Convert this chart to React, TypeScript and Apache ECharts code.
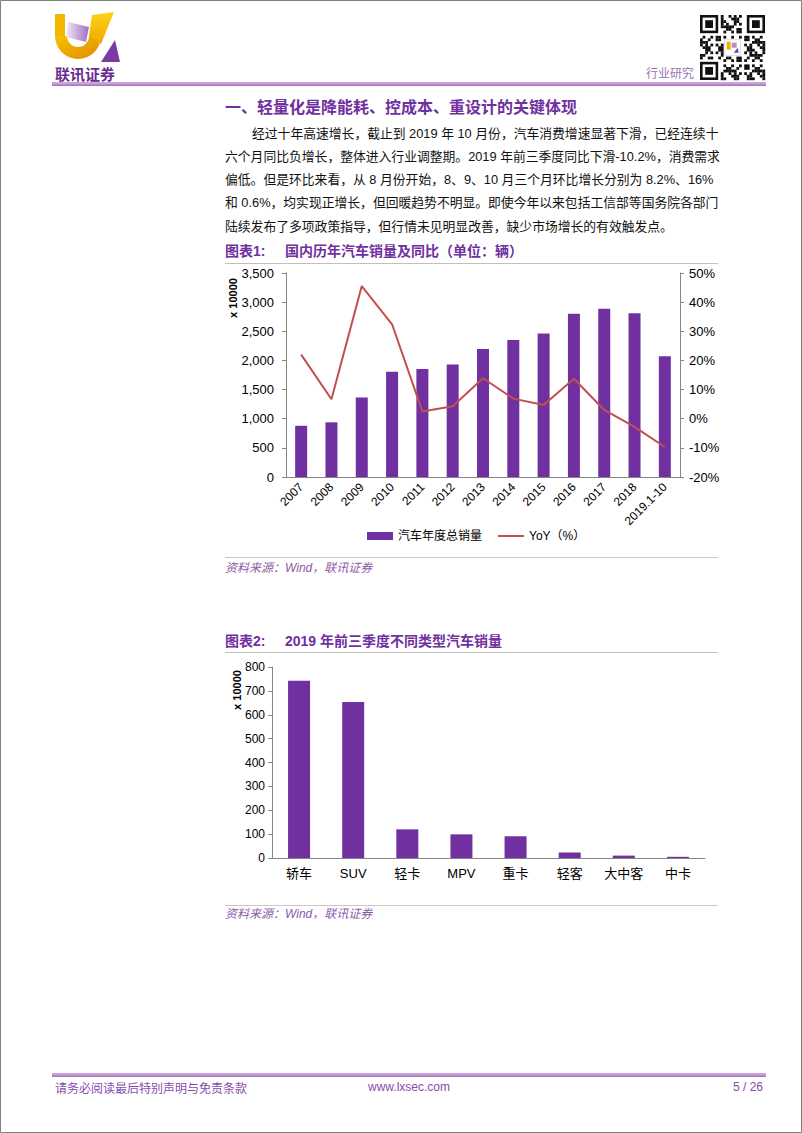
import React, { useEffect, useRef } from "react";
import * as echarts from "echarts";

// ---------- data ----------
const years = ["2007", "2008", "2009", "2010", "2011", "2012", "2013", "2014", "2015", "2016", "2017", "2018", "2019.1-10"];
const annualSales = [879, 938, 1364, 1806, 1851, 1931, 2198, 2349, 2460, 2803, 2888, 2808, 2071];
const yoyPct = [22.0, 6.7, 45.5, 32.4, 2.5, 4.3, 13.9, 6.9, 4.7, 13.7, 3.0, -2.8, -9.7];
const vehicleTypes = ["轿车", "SUV", "轻卡", "MPV", "重卡", "轻客", "大中客", "中卡"];
const typeSales = [742, 653, 120, 99, 91, 23, 10, 5];
const seriesNames = ["汽车年度总销量", "YoY（%）"];

const heading = "一、轻量化是降能耗、控成本、重设计的关键体现";
const paragraph = [
  "经过十年高速增长，截止到 2019 年 10 月份，汽车消费增速显著下滑，已经连续十",
  "六个月同比负增长，整体进入行业调整期。2019 年前三季度同比下滑-10.2%，消费需求",
  "偏低。但是环比来看，从 8 月份开始，8、9、10 月三个月环比增长分别为 8.2%、16%",
  "和 0.6%，均实现正增长，但回暖趋势不明显。即使今年以来包括工信部等国务院各部门",
  "陆续发布了多项政策指导，但行情未见明显改善，缺少市场增长的有效触发点。",
];

const FONT = "'Liberation Sans', Arial, 'Noto Sans CJK SC', sans-serif";
const PURPLE = "#7030a0";
const BAR = "#7030a0";
const LINE = "#c0504d";
const AXIS = "#868686";

function txt(x: number, y: number, text: string, o: any = {}) {
  const align = o.align || "left";
  const va = o.va || "middle";
  return {
    type: "text",
    x,
    y,
    rotation: o.rotation || 0,
    style: {
      text,
      fill: o.fill || "#000",
      fontSize: o.size || 13,
      fontWeight: o.weight || "normal",
      fontStyle: o.style || "normal",
      fontFamily: o.family || FONT,
      textAlign: align,
      align,
      textVerticalAlign: va,
      verticalAlign: va,
    },
  };
}

function hline(x1: number, x2: number, y: number, color: string, w = 1) {
  return { type: "line", shape: { x1, y1: y, x2, y2: y }, style: { stroke: color, lineWidth: w } };
}

function qrCode(x0: number, y0: number, size: number) {
  const n = 25;
  const m = size / n;
  const children: any[] = [{ type: "rect", shape: { x: x0, y: y0, width: size, height: size }, style: { fill: "#fff" } }];
  const inFinder = (i: number, j: number) =>
    (i < 8 && j < 8) || (i < 8 && j >= n - 8) || (i >= n - 8 && j < 8);
  for (let i = 0; i < n; i++) {
    for (let j = 0; j < n; j++) {
      if (inFinder(i, j)) continue;
      if (i >= 9 && i <= 15 && j >= 9 && j <= 15) continue;
      const on = ((i * 31 + j * 17 + i * j * 7) % 11) < 5;
      if (on) children.push({ type: "rect", shape: { x: x0 + j * m, y: y0 + i * m, width: m + 0.2, height: m + 0.2 }, style: { fill: "#111" } });
    }
  }
  const finder = (fi: number, fj: number) => {
    const fx = x0 + fj * m, fy = y0 + fi * m;
    children.push({ type: "rect", shape: { x: fx, y: fy, width: 7 * m, height: 7 * m }, style: { fill: "#111" } });
    children.push({ type: "rect", shape: { x: fx + m, y: fy + m, width: 5 * m, height: 5 * m }, style: { fill: "#fff" } });
    children.push({ type: "rect", shape: { x: fx + 2 * m, y: fy + 2 * m, width: 3 * m, height: 3 * m }, style: { fill: "#111" } });
  };
  finder(0, 0);
  finder(0, n - 7);
  finder(n - 7, 0);
  const cx = x0 + 9.5 * m, cy = y0 + 9.5 * m;
  children.push({ type: "rect", shape: { x: cx, y: cy, width: 6 * m, height: 6 * m }, style: { fill: "#fff", stroke: "#ddd" } });
  children.push({ type: "rect", shape: { x: cx + 2, y: cy + 2, width: 4, height: 8 }, style: { fill: "#f0b400" } });
  children.push({ type: "rect", shape: { x: cx + 7, y: cy + 3, width: 5, height: 5 }, style: { fill: "#b48ccc" } });
  children.push({ type: "polygon", shape: { points: [[cx + 9, cy + 13], [cx + 14, cy + 13], [cx + 13, cy + 8]] }, style: { fill: "#7b3fa0" } });
  return { type: "group", children };
}

function logo() {
  return {
    type: "group",
    children: [
      { type: "rect", shape: { x: 55, y: 14, width: 10, height: 22 }, style: { fill: "#f2b600" } },
      {
        type: "sector",
        shape: { cx: 78, cy: 36, r: 23, r0: 11, startAngle: 0, endAngle: Math.PI, clockwise: true },
        style: {
          fill: new echarts.graphic.LinearGradient(0, 0, 1, 1, [
            { offset: 0, color: "#f5c400" },
            { offset: 1, color: "#e08a00" },
          ]),
        },
      },
      {
        type: "polygon",
        shape: { points: [[92, 15], [114, 12], [101, 44], [89, 36]] },
        style: {
          fill: new echarts.graphic.LinearGradient(0, 0, 0, 1, [
            { offset: 0, color: "#ffd21a" },
            { offset: 1, color: "#f0a800" },
          ]),
        },
      },
      {
        type: "polygon",
        shape: { points: [[68, 22], [89, 27], [86, 42], [66, 37]] },
        style: {
          fill: new echarts.graphic.LinearGradient(0, 0, 1, 0, [
            { offset: 0, color: "#f2eaf6" },
            { offset: 1, color: "#9e6fbf" },
          ]),
        },
      },
      { type: "polygon", shape: { points: [[101, 62], [120, 62], [115, 40]] }, style: { fill: "#7b3aa4" } },
      txt(55, 73, "联讯证券", { size: 15, weight: "bold", fill: "#6a2c8f", family: "'Noto Sans CJK SC', sans-serif" }),
    ],
  };
}

export default function App() {
  const ref = useRef<HTMLDivElement>(null);

  useEffect(() => {
    if (!ref.current) return;
    const chart = echarts.init(ref.current, undefined, { renderer: "svg", width: 802, height: 1133 });

    const graphics: any[] = [
      { type: "rect", shape: { x: 0.5, y: 0.5, width: 801, height: 1132 }, style: { fill: "none", stroke: "#808080", lineWidth: 1 } },
      logo(),
      txt(694, 72, "行业研究", { size: 12, fill: "#9a72b4", align: "right", family: "'Noto Sans CJK SC', sans-serif" }),
      qrCode(700, 15, 65),
      { type: "rect", shape: { x: 52, y: 82, width: 714, height: 2.5 }, style: { fill: "#c9a4da" } },
      { type: "rect", shape: { x: 52, y: 84.5, width: 714, height: 1.2 }, style: { fill: "#8a4ab0" } },
      txt(225, 107, heading, { size: 16, weight: "bold", fill: PURPLE }),
      ...paragraph.map((line, i) => txt(i === 0 ? 252 : 225, 133 + i * 23.3, line, { size: 12.8, fill: "#111" })),
      txt(225, 251, "图表1:", { size: 14, weight: "bold", fill: PURPLE }),
      txt(285, 251, "国内历年汽车销量及同比（单位：辆）", { size: 14, weight: "bold", fill: PURPLE }),
      hline(225, 718, 263.5, "#c0c0c0"),
      txt(233, 298, "x 10000", { size: 11, weight: "bold", rotation: Math.PI / 2, align: "center" }),
      hline(225, 718, 557.5, "#c8c8c8"),
      txt(225, 568, "资料来源：Wind，联讯证券", { size: 12, style: "italic", fill: "#8e5aa8" }),
      txt(225, 641, "图表2:", { size: 14, weight: "bold", fill: PURPLE }),
      txt(285, 641, "2019 年前三季度不同类型汽车销量", { size: 14, weight: "bold", fill: PURPLE }),
      hline(225, 718, 652.5, "#c0c0c0"),
      txt(237, 690, "x 10000", { size: 11, weight: "bold", rotation: Math.PI / 2, align: "center" }),
      hline(225, 718, 905.5, "#c8c8c8"),
      txt(225, 914, "资料来源：Wind，联讯证券", { size: 12, style: "italic", fill: "#8e5aa8" }),
      { type: "rect", shape: { x: 52, y: 1073, width: 714, height: 2.5 }, style: { fill: "#c9a4da" } },
      { type: "rect", shape: { x: 52, y: 1075.5, width: 714, height: 1.2 }, style: { fill: "#8a4ab0" } },
      txt(55, 1087, "请务必阅读最后特别声明与免责条款", { size: 12, fill: "#8a4ab0", family: "'Noto Sans CJK SC', sans-serif" }),
      txt(368, 1087, "www.lxsec.com", { size: 12, fill: "#8a4ab0" }),
      txt(763, 1087, "5 / 26", { size: 12, fill: "#8a4ab0", align: "right" }),
    ];

    const axisLabel = { color: "#000", fontFamily: FONT };

    chart.setOption({
      animation: false,
      backgroundColor: "#fff",
      textStyle: { fontFamily: FONT },
      grid: [
        { left: 286, top: 273, width: 394, height: 204, containLabel: false },
        { left: 272, top: 667, width: 433, height: 191, containLabel: false },
      ],
      legend: {
        data: [
          { name: seriesNames[0], icon: "rect" },
          { name: seriesNames[1], icon: "path://M0 0H26V2H0Z" },
        ],
        left: 362,
        top: 525,
        itemWidth: 26,
        itemHeight: 8,
        itemGap: 16,
        textStyle: { fontSize: 12, color: "#000", fontFamily: FONT },
      },
      xAxis: [
        {
          type: "category",
          gridIndex: 0,
          data: years,
          axisLine: { lineStyle: { color: AXIS } },
          axisTick: { show: false },
          axisLabel: { ...axisLabel, fontSize: 12, rotate: 45, interval: 0, margin: 8 },
        },
        {
          type: "category",
          gridIndex: 1,
          data: vehicleTypes,
          axisLine: { lineStyle: { color: AXIS } },
          axisTick: { show: false },
          axisLabel: { ...axisLabel, fontSize: 13, interval: 0, margin: 9 },
        },
      ],
      yAxis: [
        {
          type: "value",
          gridIndex: 0,
          min: 0,
          max: 3500,
          interval: 500,
          axisLine: { show: true, lineStyle: { color: AXIS } },
          axisTick: { show: true, length: 4, lineStyle: { color: AXIS } },
          splitLine: { show: false },
          axisLabel: { ...axisLabel, fontSize: 13, margin: 12, formatter: (v: number) => v.toLocaleString("en-US") },
        },
        {
          type: "value",
          gridIndex: 0,
          position: "right",
          min: -20,
          max: 50,
          interval: 10,
          axisLine: { show: true, lineStyle: { color: AXIS } },
          axisTick: { show: true, length: 4, lineStyle: { color: AXIS } },
          splitLine: { show: false },
          axisLabel: { ...axisLabel, fontSize: 13, margin: 9, formatter: "{value}%" },
        },
        {
          type: "value",
          gridIndex: 1,
          min: 0,
          max: 800,
          interval: 100,
          axisLine: { show: true, lineStyle: { color: AXIS } },
          axisTick: { show: true, length: 4, lineStyle: { color: AXIS } },
          splitLine: { show: false },
          axisLabel: { ...axisLabel, fontSize: 12, margin: 7 },
        },
      ],
      series: [
        {
          name: seriesNames[0],
          type: "bar",
          xAxisIndex: 0,
          yAxisIndex: 0,
          data: annualSales,
          barWidth: 12,
          itemStyle: { color: BAR },
        },
        {
          name: seriesNames[1],
          type: "line",
          xAxisIndex: 0,
          yAxisIndex: 1,
          data: yoyPct,
          symbol: "none",
          lineStyle: { color: LINE, width: 2 },
          itemStyle: { color: LINE },
        },
        {
          name: "销量",
          type: "bar",
          xAxisIndex: 1,
          yAxisIndex: 2,
          data: typeSales,
          barWidth: 22,
          itemStyle: { color: BAR },
        },
      ],
      graphic: { elements: graphics },
    });

    return () => chart.dispose();
  }, []);

  return (
    <div
      ref={ref}
      style={{ position: "absolute", left: 0, top: 0, width: 802, height: 1133, background: "#fff" }}
    />
  );
}
